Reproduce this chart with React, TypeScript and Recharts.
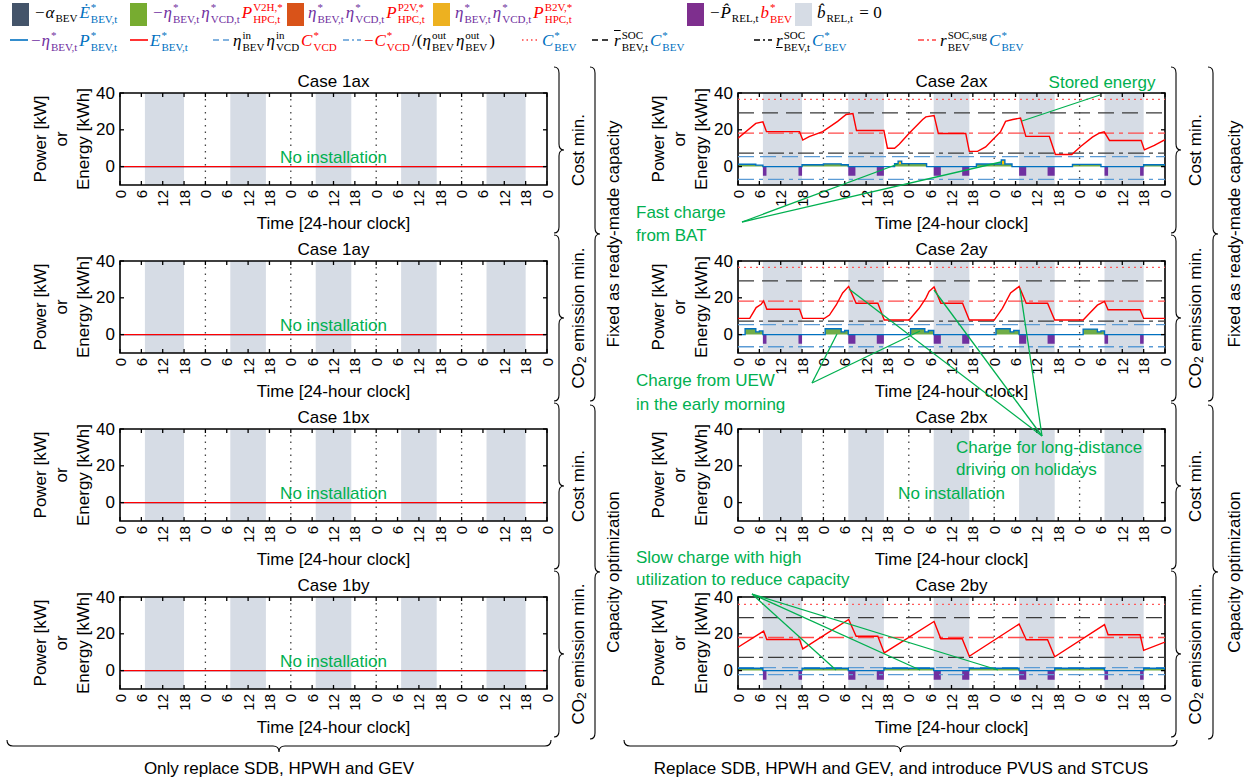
import React from "react";
import {
  Area,
  ComposedChart,
  Line,
  ReferenceArea,
  ReferenceLine,
  XAxis,
  YAxis,
} from "recharts";

const SANS = "'Liberation Sans', Arial, sans-serif";
const SERIF = "'Liberation Serif', 'Times New Roman', serif";
const NOTE = "#00B050";
const PURPLE = "#7030A0";
const RED = "#FF0000";
const BLUE = "#0070C0";

// axes
const hourTicks = [0, 6, 12, 18, 24, 30, 36, 42, 48, 54, 60, 66, 72, 78, 84, 90, 96, 102, 108, 114, 120];
const powerTicks = [0, 20, 40];
const awayWindows: [number, number][] = [[7, 18], [31, 41], [55, 65], [79, 89], [103, 114]];
const midnights = [24, 48, 72, 96];

type Seg = [number, number, number]; // start h, end h, kW
type Pt = [number, number]; // h, kWh

// -P_REL * b_BEV (driving), same in every case with a BEV
const drivingLoad: Seg[] = [
  [7, 8, -5], [17, 18, -5], [31, 33, -5], [39, 41, -5], [55, 57, -5],
  [63, 65, -5], [79, 81, -5], [87, 89, -5], [103, 104, -5], [113, 114, -5],
];

// case 2ax
const v2h2ax: Seg[] = [[0, 5, 1.3], [5, 7, 0.8], [18, 24, 1.0], [24, 29, 1.5], [29, 31, 1.0], [44, 53, 1.6], [67, 77, 1.4], [94, 102, 1.2], [114, 120, 1.0]];
const b2v2ax: Seg[] = [[45, 46, 1.4], [74, 75, 2.2]];
const soc2ax: Pt[] = [
  [0, 15.4], [5, 23.5], [7, 24.3], [8, 19.0], [17.3, 19.0], [18.2, 14.4], [20, 16.3], [23.8, 19.0], [28, 24.6],
  [30.4, 28.3], [32.3, 28.8], [33.3, 19.6], [41, 19.6], [42, 10], [44, 10], [45.3, 12.2], [48.1, 18.1],
  [51.9, 25.6], [52.8, 27], [55.1, 27.8], [56.3, 18], [64, 18], [65, 8.3], [67.3, 8.3], [69.6, 10.7],
  [71.5, 14.4], [73.8, 19], [75.2, 24.6], [77.2, 25.6], [79.4, 26.4], [80.9, 16.4], [87.5, 16.4], [89.2, 6.6],
  [93.8, 6.6], [96.3, 10.9], [99.6, 16], [101.5, 18.2], [102.9, 18.9], [104.4, 14.2], [113.3, 14.2],
  [114.2, 9.1], [117, 11.5], [120, 14.6],
];
const levels2ax = [36.5, 29.2, 18.2, 7.3, 5.4, -6.9];

// case 2ay
const v2h2ay: Seg[] = [
  [2, 5, 3.2], [5, 6, 1.5], [6, 7, 2.0], [24.5, 29, 3.2], [29, 30, 1.5], [30, 31, 2.2],
  [48.5, 52.5, 3.2], [52.5, 53.5, 1.5], [53.5, 55, 2.2], [72.5, 76.5, 3.2], [76.5, 77.5, 1.5], [77.5, 79, 2.2],
  [97, 101, 3.0], [101, 102, 1.5], [102, 103, 2.0],
];
const soc2ay: Pt[] = [
  [0, 8.8], [3.3, 8.8], [5.1, 14.7], [6.5, 16.5], [7.2, 18.3], [8.1, 13.8], [17.3, 13.8], [18.2, 8.8],
  [24.3, 8.8], [25.7, 10.6], [27.6, 16.1], [29.4, 22.6], [31.1, 26.2], [33.2, 17], [39.3, 17], [41.1, 7.9],
  [48.1, 7.9], [50.9, 14.3], [52.8, 19.8], [53.7, 23.5], [55.1, 25.9], [57, 17], [63.1, 17], [65, 7.9],
  [72, 7.9], [74.3, 14.3], [76.6, 22.6], [79, 26.2], [81, 17], [87, 17], [89, 7.9], [97, 7.9], [99, 12],
  [101, 16], [103, 18], [104, 13.5], [113, 13.5], [114, 8.8], [120, 8.8],
];
const levels2ay = [36.5, 29.2, 18.2, 7.3, 5.4, -6.6];

// case 2by
const v2h2by: Seg[] = [[0, 7, 1.25], [18, 31, 1.25], [41, 55, 1.25], [65, 79, 1.25], [89, 103, 1.25], [114, 120, 1.25]];
const soc2by: Pt[] = [
  [0, 12.7], [7.2, 21.5], [8.1, 16.9], [17.3, 16.9], [18.2, 11.8], [31.1, 27.8], [33.2, 18.7], [39.3, 18.7],
  [41.1, 9.6], [55.1, 26.7], [57, 17.3], [63, 17.3], [65, 7.8], [79, 25.3], [81, 16.8], [87, 16.8], [89, 7.5],
  [103, 25], [104, 19.5], [113, 19.5], [114, 11], [120, 15.5],
];
const levels2by = [36, 28.8, 18, 7.2, 1.6, -2.2];

// no BEV installed
const socNone: Pt[] = [[0, 0], [120, 0]];

// C_BEV, rHi*C, rSug*C, rLo*C, VCD in, VCD out
const levelStyles = [
  { stroke: "#FF5A5A", dash: "2 4" },
  { stroke: "#3A3A3A", dash: "16 8" },
  { stroke: "#FF4A4A", dash: "16 5 4 5" },
  { stroke: "#3A3A3A", dash: "16 5 4 5" },
  { stroke: "#5B9BD5", dash: "16 6" },
  { stroke: "#5B9BD5", dash: "16 5 4 5" },
];

function stepAt(segs: Seg[], h: number) {
  for (const [a, b, v] of segs) if (h >= a && h < b) return v;
  return 0;
}

function powerTable(green: Seg[], boost: Seg[], drive: Seg[]) {
  const hs = new Set<number>([0, 120]);
  [...green, ...boost, ...drive].forEach(([a, b]) => {
    hs.add(a);
    hs.add(b);
  });
  return [...hs]
    .sort((a, b) => a - b)
    .map((h) => {
      const g = stepAt(green, h);
      const y = stepAt(boost, h);
      return { h, green: g, boost: y, drive: stepAt(drive, h), total: g + y };
    });
}

const PW = 427;
const PH = 92;
const YW = 44;
const MT = 12;
const MR = 12;
const XH = 32;
const COLS = [120, 738];
const ROWS = [93, 261, 429, 597];

type PanelDef = {
  name: string;
  x: number;
  y: number;
  green?: Seg[];
  boost?: Seg[];
  soc?: Pt[];
  levels?: number[];
  empty?: boolean;
};

const panels: PanelDef[] = [
  { name: "1ax", x: COLS[0], y: ROWS[0], soc: socNone, empty: true },
  { name: "1ay", x: COLS[0], y: ROWS[1], soc: socNone, empty: true },
  { name: "1bx", x: COLS[0], y: ROWS[2], soc: socNone, empty: true },
  { name: "1by", x: COLS[0], y: ROWS[3], soc: socNone, empty: true },
  { name: "2ax", x: COLS[1], y: ROWS[0], green: v2h2ax, boost: b2v2ax, soc: soc2ax, levels: levels2ax },
  { name: "2ay", x: COLS[1], y: ROWS[1], green: v2h2ay, boost: [], soc: soc2ay, levels: levels2ay },
  { name: "2bx", x: COLS[1], y: ROWS[2], empty: true },
  { name: "2by", x: COLS[1], y: ROWS[3], green: v2h2by, boost: [], soc: soc2by, levels: levels2by },
];

function XTick(props: any) {
  const { x, y, payload } = props;
  return (
    <g>
      <line x1={x} y1={y} x2={x} y2={y - 4} stroke="#000" strokeWidth={1.3} />
      <line x1={x} y1={y - PH} x2={x} y2={y - PH + 4} stroke="#000" strokeWidth={1.3} />
      <text
        transform={`translate(${x},${y + 5}) rotate(-90)`}
        textAnchor="end"
        dominantBaseline="central"
        fontSize={15}
        fontFamily={SANS}
        fill="#000"
      >
        {payload.value % 24}
      </text>
    </g>
  );
}

function YTick(props: any) {
  const { x, y, payload } = props;
  return (
    <g>
      <line x1={x} y1={y} x2={x + 4} y2={y} stroke="#000" strokeWidth={1.3} />
      <line x1={x + PW} y1={y} x2={x + PW - 4} y2={y} stroke="#000" strokeWidth={1.3} />
      <text x={x - 5} y={y} textAnchor="end" dominantBaseline="central" fontSize={17} fontFamily={SANS} fill="#000">
        {payload.value}
      </text>
    </g>
  );
}

function Panel({ x, y, green, boost, soc, levels }: PanelDef) {
  const hasBev = !!green;
  const data = powerTable(green || [], boost || [], hasBev ? drivingLoad : []);
  const socRows = (soc || []).map(([h, e]) => ({ h, e }));
  return (
    <div style={{ position: "absolute", left: x - YW, top: y - MT }}>
      <ComposedChart
        width={YW + PW + MR}
        height={MT + PH + XH}
        data={data}
        margin={{ top: MT, right: MR, bottom: 0, left: 0 }}
      >
        {awayWindows.map(([a, b]) => (
          <ReferenceArea key={a} x1={a} x2={b} y1={-10} y2={40} fill="#D6DCE5" fillOpacity={1} stroke="none" />
        ))}
        {midnights.map((h) => (
          <ReferenceLine key={h} x={h} stroke="#444" strokeDasharray="1.5 5" strokeWidth={1.3} />
        ))}
        {(levels || []).map((v, i) => (
          <ReferenceLine
            key={i}
            y={v}
            stroke={levelStyles[i].stroke}
            strokeDasharray={levelStyles[i].dash}
            strokeWidth={1.3}
          />
        ))}
        {hasBev && (
          <Area type="stepAfter" dataKey="drive" fill={PURPLE} fillOpacity={1} stroke="none" isAnimationActive={false} />
        )}
        {hasBev && (
          <Area type="stepAfter" dataKey="green" stackId="c" fill="#70AD47" fillOpacity={1} stroke="none" isAnimationActive={false} />
        )}
        {hasBev && (
          <Area type="stepAfter" dataKey="boost" stackId="c" fill="#FFC000" fillOpacity={1} stroke="none" isAnimationActive={false} />
        )}
        {soc && (
          <Line type="stepAfter" dataKey="total" stroke={BLUE} strokeWidth={1.4} dot={false} activeDot={false} isAnimationActive={false} />
        )}
        {soc && (
          <Line data={socRows} type="linear" dataKey="e" stroke={RED} strokeWidth={1.4} dot={false} activeDot={false} isAnimationActive={false} />
        )}
        <ReferenceArea x1={0} x2={120} y1={-10} y2={40} fill="none" stroke="#000" strokeWidth={1.6} />
        <XAxis
          type="number"
          dataKey="h"
          domain={[0, 120]}
          ticks={hourTicks}
          interval={0}
          allowDataOverflow
          axisLine={false}
          tickLine={false}
          tickSize={0}
          tickMargin={0}
          height={XH}
          tick={(p: any) => <XTick {...p} />}
        />
        <YAxis
          type="number"
          domain={[-10, 40]}
          ticks={powerTicks}
          interval={0}
          allowDataOverflow
          axisLine={false}
          tickLine={false}
          tickSize={0}
          tickMargin={0}
          width={YW}
          tick={(p: any) => <YTick {...p} />}
        />
      </ComposedChart>
    </div>
  );
}

// legend symbol with stacked super/subscripts
function M({ b, sup, sub, c = "#000", it = true, over, under }: any) {
  return (
    <span style={{ color: c, whiteSpace: "nowrap", marginRight: 2 }}>
      <span
        style={{
          fontStyle: it ? "italic" : "normal",
          textDecoration: over ? "overline" : under ? "underline" : undefined,
        }}
      >
        {b}
      </span>
      {sup && sub ? (
        <span
          style={{
            display: "inline-flex",
            flexDirection: "column",
            fontSize: 11,
            lineHeight: "12px",
            verticalAlign: "7px",
            marginLeft: 1,
          }}
        >
          <span>{sup}</span>
          <span>{sub}</span>
        </span>
      ) : sub ? (
        <span style={{ fontSize: 11, verticalAlign: "-4px", marginLeft: 1 }}>{sub}</span>
      ) : null}
    </span>
  );
}

function Swatch({ x, color }: { x: number; color: string }) {
  return <div style={{ position: "absolute", left: x, top: 3, width: 17, height: 23, background: color }} />;
}

function LineKey({ x, color, dash }: { x: number; color: string; dash?: string }) {
  return (
    <svg style={{ position: "absolute", left: x, top: 35 }} width={18} height={10}>
      <line x1={0} y1={5} x2={18} y2={5} stroke={color} strokeWidth={1.6} strokeDasharray={dash} />
    </svg>
  );
}

function Item({ x, top, children }: any) {
  return (
    <div style={{ position: "absolute", left: x, top, fontFamily: SERIF, fontSize: 17, lineHeight: "24px", whiteSpace: "nowrap" }}>
      {children}
    </div>
  );
}

function Legend() {
  return (
    <>
      <Swatch x={12} color="#44546A" />
      <Item x={34} top={1}>
        <M b="−α" sub="BEV" />
        <M b={"E\u0307"} sup="*" sub="BEV,t" c={BLUE} />
      </Item>
      <Swatch x={130} color="#77AC30" />
      <Item x={152} top={1}>
        <M b="−η" sup="*" sub="BEV,t" c={PURPLE} />
        <M b="η" sup="*" sub="VCD,t" c={PURPLE} />
        <M b="P" sup="V2H,*" sub="HPC,t" c={RED} />
      </Item>
      <Swatch x={287} color="#D95319" />
      <Item x={308} top={1}>
        <M b="η" sup="*" sub="BEV,t" c={PURPLE} />
        <M b="η" sup="*" sub="VCD,t" c={PURPLE} />
        <M b="P" sup="P2V,*" sub="HPC,t" c={RED} />
      </Item>
      <Swatch x={433} color="#EDB120" />
      <Item x={455} top={1}>
        <M b="η" sup="*" sub="BEV,t" c={PURPLE} />
        <M b="η" sup="*" sub="VCD,t" c={PURPLE} />
        <M b="P" sup="B2V,*" sub="HPC,t" c={RED} />
      </Item>
      <Swatch x={687} color="#7E2F8E" />
      <Item x={709} top={1}>
        <M b={"−P\u0302"} sub="REL,t" />
        <M b="b" sup="*" sub="BEV" c={RED} />
      </Item>
      <Swatch x={795} color="#D6DCE5" />
      <Item x={817} top={1}>
        <M b={"b\u0302"} sub="REL,t" />
        <span> = 0</span>
      </Item>

      <LineKey x={10} color={BLUE} />
      <Item x={30} top={29}>
        <M b="−η" sup="*" sub="BEV,t" c={PURPLE} />
        <M b="P" sup="*" sub="BEV,t" c={BLUE} />
      </Item>
      <LineKey x={130} color={RED} />
      <Item x={150} top={29}>
        <M b="E" sup="*" sub="BEV,t" c={BLUE} />
      </Item>
      <LineKey x={213} color="#5B9BD5" dash="6 4" />
      <Item x={233} top={29}>
        <M b="η" sup="in" sub="BEV" />
        <M b="η" sup="in" sub="VCD" />
        <M b="C" sup="*" sub="VCD" c={RED} />
      </Item>
      <LineKey x={343} color="#5B9BD5" dash="6 3 2 3" />
      <Item x={363} top={29}>
        <M b="−C" sup="*" sub="VCD" c={RED} />
        <span>/(</span>
        <M b="η" sup="out" sub="BEV" />
        <M b="η" sup="out" sub="BEV" />
        <span>)</span>
      </Item>
      <LineKey x={522} color="#FF4040" dash="1.5 3" />
      <Item x={542} top={29}>
        <M b="C" sup="*" sub="BEV" c={BLUE} />
      </Item>
      <LineKey x={592} color="#000" dash="6 4" />
      <Item x={614} top={29}>
        <M b="r" over sup="SOC" sub="BEV,t" />
        <M b="C" sup="*" sub="BEV" c={BLUE} />
      </Item>
      <LineKey x={754} color="#000" dash="6 3 2 3" />
      <Item x={776} top={29}>
        <M b="r" under sup="SOC" sub="BEV,t" />
        <M b="C" sup="*" sub="BEV" c={BLUE} />
      </Item>
      <LineKey x={918} color="#FF4040" dash="6 3 2 3" />
      <Item x={940} top={29}>
        <M b="r" sup="SOC,sug" sub="BEV" />
        <M b="C" sup="*" sub="BEV" c={BLUE} />
      </Item>
    </>
  );
}

function vBrace(x: number, y1: number, y2: number, w = 10) {
  const ym = (y1 + y2) / 2;
  const s = x + w / 2;
  const r = 6;
  return `M${x},${y1} Q${s},${y1} ${s},${y1 + r} L${s},${ym - r} Q${s},${ym} ${x + w},${ym} Q${s},${ym} ${s},${ym + r} L${s},${y2 - r} Q${s},${y2} ${x},${y2}`;
}

function hBrace(y: number, x1: number, x2: number, h = 12) {
  const xm = (x1 + x2) / 2;
  const s = y + h / 2;
  const r = 6;
  return `M${x1},${y} Q${x1},${s} ${x1 + r},${s} L${xm - r},${s} Q${xm},${s} ${xm},${y + h} Q${xm},${s} ${xm + r},${s} L${x2 - r},${s} Q${x2},${s} ${x2},${y}`;
}

const rowLabels = ["Cost min.", "CO2 emission min.", "Cost min.", "CO2 emission min."];

function SideText({ x, y, label }: { x: number; y: number; label: string }) {
  const co2 = label.startsWith("CO2");
  return (
    <text transform={`translate(${x},${y}) rotate(-90)`} textAnchor="middle" dominantBaseline="central" fontSize={17}>
      {co2 ? (
        <>
          CO<tspan fontSize={12} dy={4}>2</tspan>
          <tspan dy={-4}>{" " + label.slice(4)}</tspan>
        </>
      ) : (
        label
      )}
    </text>
  );
}

function Overlay() {
  const groups = [
    { b1: 554, t1: 578, b2: 590, t2: 613 },
    { b1: 1171, t1: 1195, b2: 1208, t2: 1234 },
  ];
  return (
    <svg
      width={1254}
      height={781}
      style={{ position: "absolute", left: 0, top: 0, pointerEvents: "none" }}
      fontFamily={SANS}
    >
      {panels.map((p) => (
        <g key={p.name}>
          <text x={p.x + PW / 2} y={p.y - 12} textAnchor="middle" dominantBaseline="central" fontSize={17}>
            Case {p.name}
          </text>
          <text x={p.x + PW / 2} y={p.y + 130} textAnchor="middle" dominantBaseline="central" fontSize={17}>
            Time [24-hour clock]
          </text>
          {[
            ["Power [kW]", -80],
            ["or", -59],
            ["Energy [kWh]", -37],
          ].map(([t, dx]) => (
            <text
              key={t as string}
              transform={`translate(${p.x + (dx as number)},${p.y + PH / 2}) rotate(-90)`}
              textAnchor="middle"
              dominantBaseline="central"
              fontSize={17}
            >
              {t}
            </text>
          ))}
          {p.empty && (
            <text x={p.x + PW / 2} y={p.y + 64} textAnchor="middle" dominantBaseline="central" fontSize={17} fill={NOTE}>
              No installation
            </text>
          )}
        </g>
      ))}

      {groups.map((g, gi) => (
        <g key={gi} fill="none" stroke="#000" strokeWidth={1.1}>
          {ROWS.map((ry, i) => (
            <path key={i} d={vBrace(g.b1, 67 + 168 * i, 233 + 168 * i)} />
          ))}
          <path d={vBrace(g.b2, 67, 401)} />
          <path d={vBrace(g.b2, 405, 739)} />
        </g>
      ))}
      {groups.map((g, gi) => (
        <g key={"t" + gi}>
          {rowLabels.map((l, i) => (
            <SideText key={i} x={g.t1} y={150 + 168 * i} label={l} />
          ))}
          <SideText x={g.t2} y={234} label="Fixed as ready-made  capacity" />
          <SideText x={g.t2} y={572} label="Capacity optimization" />
        </g>
      ))}

      <g fill="none" stroke="#000" strokeWidth={1.1}>
        <path d={hBrace(740, 7, 551)} />
        <path d={hBrace(740, 624, 1177)} />
      </g>
      <text x={279} y={768} textAnchor="middle" dominantBaseline="central" fontSize={17}>
        Only replace SDB, HPWH and GEV
      </text>
      <text x={901} y={768} textAnchor="middle" dominantBaseline="central" fontSize={17}>
        Replace SDB, HPWH and GEV, and introduce PVUS and STCUS
      </text>

      <g fill={NOTE} fontSize={17} dominantBaseline="central">
        <text x={1102} y={82} textAnchor="middle">Stored energy</text>
        <text x={636} y={212}>Fast charge</text>
        <text x={636} y={235}>from BAT</text>
        <text x={636} y={380}>Charge from UEW</text>
        <text x={636} y={404}>in the early morning</text>
        <text x={956} y={447}>Charge for long-distance</text>
        <text x={956} y={469}>driving on holidays</text>
        <text x={636} y={557}>Slow charge with high</text>
        <text x={636} y={579}>utilization to reduce capacity</text>
      </g>
      <g stroke={NOTE} strokeWidth={1.3}>
        <line x1={1100} y1={95} x2={1022} y2={121} />
        <line x1={742} y1={222} x2={898} y2={164} />
        <line x1={742} y1={222} x2={1001} y2={162} />
        <line x1={812} y1={383} x2={837} y2={334} />
        <line x1={812} y1={383} x2={920} y2={331} />
        <line x1={1042} y1={436} x2={849} y2={289} />
        <line x1={1042} y1={436} x2={934} y2={290} />
        <line x1={1042} y1={436} x2={1020} y2={289} />
        <line x1={752} y1={594} x2={836} y2={670} />
        <line x1={752} y1={594} x2={920} y2={670} />
        <line x1={752} y1={594} x2={998} y2={670} />
      </g>
    </svg>
  );
}

export default function App() {
  return (
    <div
      style={{
        position: "absolute",
        left: 0,
        top: 0,
        width: 1254,
        height: 781,
        background: "#fff",
        overflow: "hidden",
        fontFamily: SANS,
      }}
    >
      {panels.map((p) => (
        <Panel key={p.name} {...p} />
      ))}
      <Legend />
      <Overlay />
    </div>
  );
}
